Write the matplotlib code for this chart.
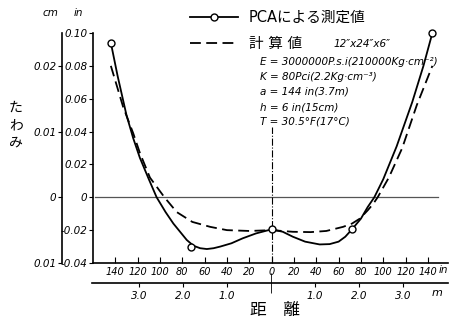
import matplotlib
matplotlib.use("Agg")
import matplotlib.pyplot as plt
from matplotlib.lines import Line2D

plt.rcParams['font.family'] = ['DejaVu Sans', 'Noto Sans CJK JP']

W, H = 466, 325

# PCA measured deflection curve (inches)
meas_x = [-144, -138, -130, -124, -118, -110, -103, -95, -88, -82, -76, -70,
          -64, -58, -52, -46, -36, -26, -14, 0, 10, 19, 30, 43, 52, 60, 66,
          72, 80, 86, 92, 100, 112, 126, 136, 144]
meas_y = [0.094, 0.074, 0.050, 0.036, 0.024, 0.011, 0.000, -0.009, -0.016,
          -0.021, -0.026, -0.0295, -0.031, -0.0315, -0.031, -0.030, -0.028,
          -0.025, -0.022, -0.0195, -0.021, -0.024, -0.027, -0.0287, -0.0285,
          -0.027, -0.024, -0.0195, -0.013, -0.006, 0.000, 0.011, 0.031, 0.058,
          0.080, 0.100]

# measured points (circles)
pt_x = [-144, -72, 0, 72, 144]
pt_y = [0.094, -0.030, -0.0195, -0.0195, 0.100]

# calculated curve 12"x24"x6"
calc_x = [-144, -133, -124, -118, -109, -96, -85, -71, -55, -40, -20, 0, 19,
          35, 49, 58, 64, 72, 79, 86, 91, 95, 105, 117, 130, 144]
calc_y = [0.080, 0.055, 0.039, 0.027, 0.012, 0.000, -0.009, -0.015, -0.018,
          -0.020, -0.0205, -0.020, -0.021, -0.0212, -0.0205, -0.019, -0.018,
          -0.016, -0.013, -0.008, -0.004, 0.000, 0.012, 0.030, 0.056, 0.080]

in_ticks = list(range(-140, 141, 20))
in_labels = [str(abs(t)) for t in in_ticks]
m_ticks = [-3, -2, -1, 1, 2, 3]
m_labels = ['3.0', '2.0', '1.0', '1.0', '2.0', '3.0']
y_ticks = [-0.04, -0.02, 0, 0.02, 0.04, 0.06, 0.08, 0.10]
y_labels = ['-0.04', '-0.02', '0', '0.02', '0.04', '0.06', '0.08', '0.10']
cm_ticks = [-0.01, 0, 0.01, 0.02]
cm_labels = ['0.01', '0', '0.01', '0.02']

params = ['E = 3000000P.s.i(210000Kg·cm⁻²)',
          'K = 80Pci(2.2Kg·cm⁻³)',
          'a = 144 in(3.7m)',
          'h = 6 in(15cm)',
          'T = 30.5°F(17°C)']


def fx(px):
    return px / W


def fy(py):
    return 1 - py / H


fig = plt.figure(figsize=(W / 100, H / 100), dpi=100)

# main axis (inches)
ax = fig.add_axes([fx(93), fy(263), 355 / W, 230 / H])
ax.set_xlim(-160, 158)
ax.set_ylim(-0.04, 0.10)
for s in ['top', 'right']:
    ax.spines[s].set_visible(False)
for s in ['left', 'bottom']:
    ax.spines[s].set_linewidth(1.2)
ax.set_xticks(in_ticks)
ax.set_xticklabels(in_labels, fontstyle='italic')
ax.set_yticks(y_ticks)
ax.set_yticklabels(y_labels, fontstyle='italic')
ax.tick_params(axis='x', direction='in', length=4, pad=3, labelsize=7)
ax.tick_params(axis='y', direction='out', length=3, pad=1, labelsize=7.5)

ax.axhline(0, xmin=2 / 355, xmax=345 / 355, color='#555555', lw=0.9)
ax.axvline(0, ymin=0, ymax=(0.043 + 0.04) / 0.14, color='black', lw=0.8,
           ls='-.')

ax.plot(meas_x, meas_y, color='black', lw=1.3)
ax.plot(calc_x, calc_y, color='black', lw=1.3, ls='--', dashes=(6, 3))
ax.plot(pt_x, pt_y, 'o', ms=5, mfc='white', mec='black', mew=1.0,
        clip_on=False, zorder=5)

# outer cm axis
ax2 = fig.add_axes([fx(62), fy(263), 0.0005, 230 / H])
ax2.set_ylim(-0.01, 0.025)
ax2.patch.set_visible(False)
for s in ['top', 'right', 'bottom']:
    ax2.spines[s].set_visible(False)
ax2.spines['left'].set_linewidth(1.2)
ax2.set_xticks([])
ax2.set_yticks(cm_ticks)
ax2.set_yticklabels(cm_labels, fontstyle='italic')
ax2.tick_params(axis='y', direction='out', length=3, pad=1, labelsize=7.5)

# metre axis
ax3 = fig.add_axes([fx(92), fy(283), 356 / W, 0.0005])
ax3.set_xlim(-160 / 39.37, 158 / 39.37)
ax3.patch.set_visible(False)
for s in ['top', 'right', 'left']:
    ax3.spines[s].set_visible(False)
ax3.spines['bottom'].set_linewidth(1.2)
ax3.set_yticks([])
ax3.set_xticks(m_ticks)
ax3.set_xticklabels(m_labels, fontstyle='italic')
ax3.set_xticks([0], minor=True)
ax3.tick_params(axis='x', which='major', direction='out', length=3, pad=3,
                labelsize=7.5)
ax3.tick_params(axis='x', which='minor', direction='inout', length=14)

# units and axis titles
fig.text(fx(443), fy(270), 'in', fontsize=7.5, style='italic',
         ha='center', va='center')
fig.text(fx(437), fy(293), 'm', fontsize=8, style='italic',
         ha='center', va='center')
fig.text(fx(50), fy(13), 'cm', fontsize=7.5, style='italic',
         ha='center', va='center')
fig.text(fx(78), fy(13), 'in', fontsize=7.5, style='italic',
         ha='center', va='center')
fig.text(fx(275), fy(310), '距　離', fontsize=12, ha='center', va='center')
fig.text(fx(16), fy(125), 'た\nわ\nみ', fontsize=10, ha='center',
         va='center', linespacing=1.3)

# legend
fig.add_artist(Line2D([fx(190), fx(238)], [fy(17), fy(17)], color='black',
                      lw=1.3))
fig.add_artist(Line2D([fx(214)], [fy(17)], marker='o', ms=5, mfc='white',
                      mec='black', mew=1.0))
fig.add_artist(Line2D([fx(190), fx(238)], [fy(43), fy(43)], color='black',
                      lw=1.3, ls='--', dashes=(6, 3)))
fig.text(fx(249), fy(17), 'PCAによる測定値', fontsize=10.5, va='center')
fig.text(fx(249), fy(43), '計 算 値', fontsize=10.5, va='center')
fig.text(fx(334), fy(44), '12″x24″x6″', fontsize=7.5, style='italic',
         va='center')

for i, p in enumerate(params):
    fig.text(fx(260), fy(62 + i * 15), p, fontsize=7.5, style='italic',
             va='center')

fig.savefig('out.png', dpi=100, facecolor='white')
